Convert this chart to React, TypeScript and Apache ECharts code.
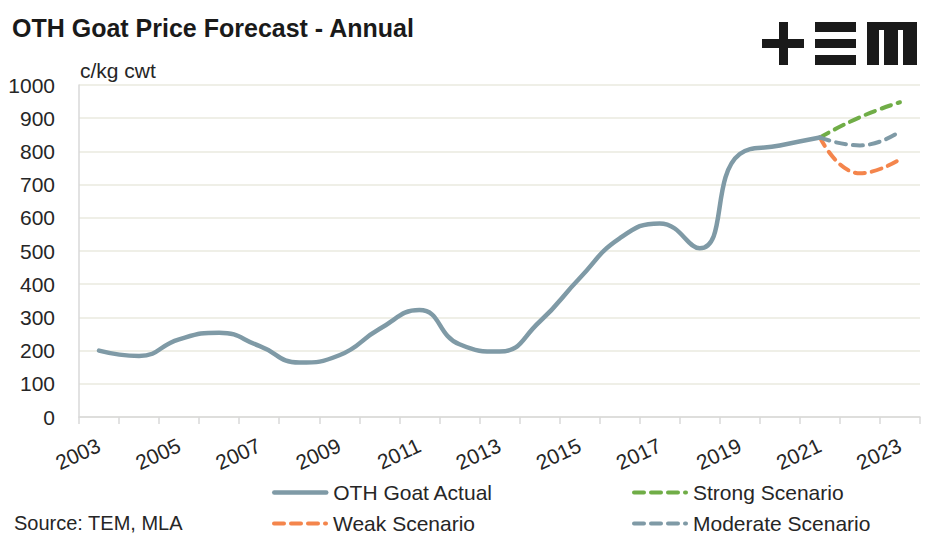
import React, { useEffect, useRef } from "react";
import * as echarts from "echarts";

const years = ["2003","2004","2005","2006","2007","2008","2009","2010","2011","2012","2013","2014","2015","2016","2017","2018","2019","2020","2021","2022","2023"];
const actual = [200,184,234,254,214,164,186,265,322,219,197,287,418,538,583,508,792,818,842,null,null];
const strong = [null,null,null,null,null,null,null,null,null,null,null,null,null,null,null,null,null,null,842,903,948];
const weak = [null,null,null,null,null,null,null,null,null,null,null,null,null,null,null,null,null,null,842,734,776];
const moderate = [null,null,null,null,null,null,null,null,null,null,null,null,null,null,null,null,null,null,842,818,860];

const FONT = "'Liberation Sans', Arial, sans-serif";
const GREY = "#7F9AA6";
const GREEN = "#70AD47";
const ORANGE = "#F4854C";
const INK = "#1a1a1a";

export default function App() {
  const ref = useRef<HTMLDivElement>(null);
  useEffect(() => {
    document.body.style.margin = "0";
    if (!ref.current) return;
    const chart = echarts.init(ref.current, undefined, { renderer: "svg" });
    const dashType: any = [10, 7];
    const dash = { type: dashType, width: 4, cap: "round" as any };
    const legendBase = (name: string, left: number, top: number, dashed: boolean) => ({
      data: [name],
      left, top,
      orient: "horizontal",
      itemWidth: 52,
      itemHeight: 14,
      padding: 0,
      selectedMode: false,
      itemStyle: { opacity: 0 },
      lineStyle: dashed ? { width: 4, type: dashType, cap: "round" } : { width: 4.5, type: "solid", cap: "round" },
      textStyle: { fontFamily: FONT, fontSize: 21, color: "#262626", padding: [0, 0, 0, 2] },
    });
    chart.setOption({
      animation: false,
      textStyle: { fontFamily: FONT },
      grid: { left: 79, right: 27, top: 85, bottom: 126, containLabel: false },
      graphic: [
        { type: "text", left: 12, top: 15, style: { text: "OTH Goat Price Forecast - Annual", font: `bold 25px ${FONT}`, fill: INK } },
        { type: "text", left: 80, top: 60, style: { text: "c/kg cwt", font: `21px ${FONT}`, fill: "#262626" } },
        { type: "text", left: 14, top: 513, style: { text: "Source: TEM, MLA", font: `20px ${FONT}`, fill: "#262626" } },
        // TEM logo
        { type: "rect", shape: { x: 762, y: 39, width: 42, height: 9 }, style: { fill: INK } },
        { type: "rect", shape: { x: 779, y: 22, width: 9, height: 43 }, style: { fill: INK } },
        { type: "rect", shape: { x: 815, y: 22, width: 41, height: 10 }, style: { fill: INK } },
        { type: "rect", shape: { x: 815, y: 39, width: 41, height: 9 }, style: { fill: INK } },
        { type: "rect", shape: { x: 815, y: 55, width: 41, height: 10 }, style: { fill: INK } },
        { type: "rect", shape: { x: 867, y: 22, width: 50, height: 8 }, style: { fill: INK } },
        { type: "rect", shape: { x: 867, y: 22, width: 12, height: 43 }, style: { fill: INK } },
        { type: "rect", shape: { x: 884, y: 22, width: 14, height: 43 }, style: { fill: INK } },
        { type: "rect", shape: { x: 903, y: 22, width: 14, height: 43 }, style: { fill: INK } },
      ],
      legend: [
        legendBase("OTH Goat Actual", 272, 482, false),
        legendBase("Strong Scenario", 632, 482, true),
        legendBase("Weak Scenario", 272, 513, true),
        legendBase("Moderate Scenario", 632, 513, true),
      ],
      xAxis: {
        type: "category",
        data: years,
        boundaryGap: true,
        axisLine: { show: true, lineStyle: { color: "#D9D9D9", width: 1.5 } },
        axisTick: { show: true, interval: 0, length: 7, lineStyle: { color: "#D9D9D9", width: 1.5 } },
        axisLabel: { interval: 1, rotate: 25, margin: 27, fontSize: 21, fontFamily: FONT, color: "#262626" },
        splitLine: { show: false },
      },
      yAxis: {
        type: "value",
        min: 0,
        max: 1000,
        interval: 100,
        axisLine: { show: true, lineStyle: { color: "#D9D9D9", width: 1.5 } },
        axisTick: { show: false },
        axisLabel: { margin: 24, fontSize: 21, fontFamily: FONT, color: "#262626", formatter: (v: number) => String(v) },
        splitLine: { show: true, lineStyle: { color: "#EAEADF", width: 1.5 } },
      },
      series: [
        { name: "OTH Goat Actual", type: "line", data: actual, smooth: 0.5, symbol: "none", lineStyle: { color: GREY, width: 4.5, cap: "round" }, itemStyle: { color: GREY }, z: 3 },
        { name: "Strong Scenario", type: "line", data: strong, smooth: 0.5, symbol: "none", lineStyle: { color: GREEN, ...dash }, itemStyle: { color: GREEN }, z: 2 },
        { name: "Weak Scenario", type: "line", data: weak, smooth: 0.5, symbol: "none", lineStyle: { color: ORANGE, ...dash }, itemStyle: { color: ORANGE }, z: 2 },
        { name: "Moderate Scenario", type: "line", data: moderate, smooth: 0.5, symbol: "none", lineStyle: { color: GREY, ...dash }, itemStyle: { color: GREY }, z: 2 },
      ],
    });
    return () => chart.dispose();
  }, []);
  return <div ref={ref} style={{ width: 947, height: 543 }} />;
}
